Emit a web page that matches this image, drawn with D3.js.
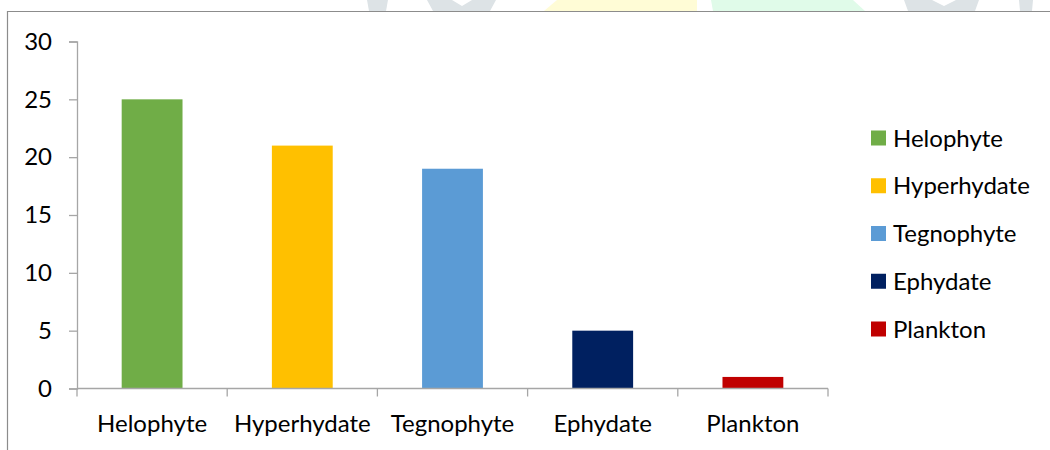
<!DOCTYPE html>
<html>
<head>
<meta charset="utf-8">
<script src="https://cdn.jsdelivr.net/npm/d3@7"></script>
<style>
  html, body { margin: 0; padding: 0; background: #fff; }
  svg { display: block; }
  text { font-family: Lato, "Open Sans", sans-serif; fill: #000; }
</style>
</head>
<body>
<svg id="chart" width="1050" height="450"></svg>
<script>
// Number of species per life form
const categories = ["Helophyte", "Hyperhydate", "Tegnophyte", "Ephydate", "Plankton"];
const values = [25, 21, 19, 5, 1];
const colors = ["#70ad47", "#ffc000", "#5b9bd5", "#002060", "#c00000"];
const yTicks = [0, 5, 10, 15, 20, 25, 30];

const svg = d3.select("#chart");
const fontSize = 24;

// faint decorative shapes peeking above the frame
const deco = svg.append("g");
const shapes = [
  { pts: [[367,0],[388,0],[386,11],[369,11]], fill: "#dde3e6" },
  { pts: [[427,0],[452,0],[462,6],[472,0],[496,0],[490,11],[433,11]], fill: "#dde3e6" },
  { pts: [[557,0],[697,0],[697,11],[544,11]], fill: "#fffcd6" },
  { pts: [[711,0],[853,0],[865,11],[713,11]], fill: "#e0fbe9" },
  { pts: [[904,0],[932,0],[944,6],[956,0],[979,0],[975,11],[908,11]], fill: "#dde3e6" },
  { pts: [[1019,0],[1033,0],[1032,11],[1020,11]], fill: "#dde3e6" }
];
deco.selectAll("polygon").data(shapes).join("polygon")
  .attr("points", d => d.pts.map(p => p.join(",")).join(" "))
  .attr("fill", d => d.fill);

// chart frame (top and left edges)
svg.append("path")
  .attr("d", "M7.5,450 V11.5 H1050")
  .attr("fill", "none")
  .attr("stroke", "#8c8c8c")
  .attr("stroke-width", 1.2);

const plot = { left: 77, right: 828, top: 41.5, bottom: 388.5 };

const x = d3.scaleBand().domain(categories).range([plot.left, plot.right]).padding(0);
const y = d3.scaleLinear().domain([0, 30]).range([plot.bottom, plot.top]);
const barW = x.bandwidth() * 0.405;

// bars
svg.append("g").selectAll("rect").data(categories).join("rect")
  .attr("x", d => x(d) + (x.bandwidth() - barW) / 2)
  .attr("y", (d, i) => y(values[i]))
  .attr("width", barW)
  .attr("height", (d, i) => y(0) - y(values[i]))
  .attr("fill", (d, i) => colors[i]);

const axisColor = "#a6a6a6";

// y axis
const yAxis = svg.append("g")
  .attr("transform", `translate(${plot.left},0)`)
  .call(d3.axisLeft(y).tickValues(yTicks).tickSize(8).tickPadding(17));
yAxis.select(".domain").attr("stroke", axisColor).attr("stroke-width", 1.3);
yAxis.selectAll(".tick line").attr("stroke", axisColor).attr("stroke-width", 1.3);
yAxis.selectAll(".tick text").attr("font-size", fontSize).attr("font-family", "Lato, sans-serif").attr("fill", "#000");

// x axis with ticks at category boundaries
const xAxisG = svg.append("g").attr("transform", `translate(0,${plot.bottom})`);
xAxisG.append("line")
  .attr("x1", plot.left).attr("x2", plot.right)
  .attr("stroke", axisColor).attr("stroke-width", 1.3);
const bounds = categories.map(c => x(c)).concat([x(categories[categories.length - 1]) + x.bandwidth()]);
xAxisG.selectAll("line.tk").data(bounds).join("line")
  .attr("class", "tk")
  .attr("x1", d => d).attr("x2", d => d)
  .attr("y1", 0).attr("y2", 8)
  .attr("stroke", axisColor).attr("stroke-width", 1.3);
xAxisG.selectAll("text").data(categories).join("text")
  .attr("x", d => x(d) + x.bandwidth() / 2)
  .attr("y", 43)
  .attr("text-anchor", "middle")
  .attr("font-size", fontSize)
  .text(d => d);

// legend
const legend = svg.append("g").attr("transform", "translate(871,0)");
const legRow = d3.scalePoint().domain(categories).range([138, 329]);
const items = legend.selectAll("g").data(categories).join("g")
  .attr("transform", d => `translate(0,${legRow(d)})`);
items.append("rect")
  .attr("x", 0).attr("y", -7.5).attr("width", 15).attr("height", 15)
  .attr("fill", (d, i) => colors[i]);
items.append("text")
  .attr("x", 22).attr("y", 8.5)
  .attr("font-size", fontSize)
  .text(d => d);
</script>
</body>
</html>
